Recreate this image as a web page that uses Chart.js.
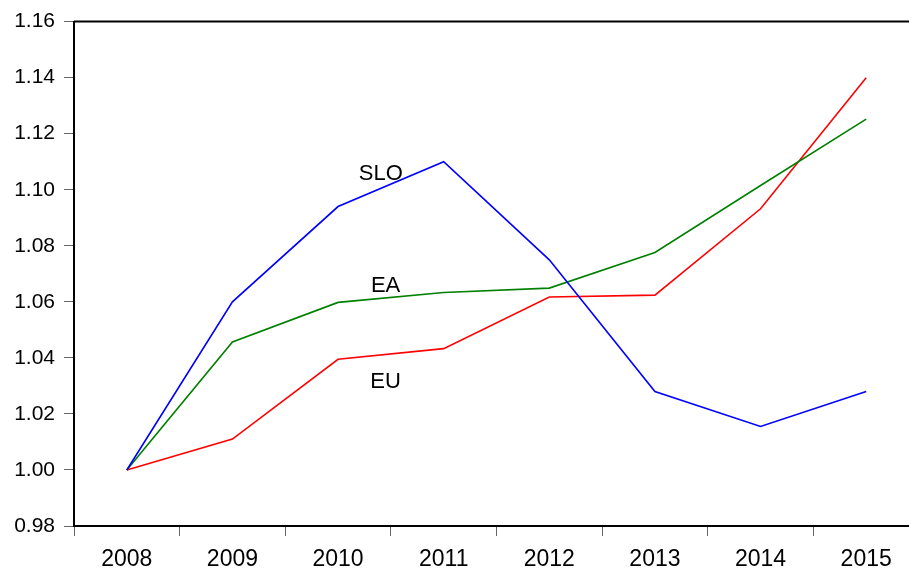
<!DOCTYPE html>
<html>
<head>
<meta charset="utf-8">
<script src="https://cdn.jsdelivr.net/npm/chart.js@4/dist/chart.umd.min.js"></script>
<style>
  html, body { margin: 0; padding: 0; background: #fff; overflow: hidden; }
  #wrap { width: 920px; height: 572px; position: relative; }
</style>
</head>
<body>
<div id="wrap"><canvas id="c"></canvas></div>
<script>
// data (index, 2008 = 1)
const years = ['2008', '2009', '2010', '2011', '2012', '2013', '2014', '2015'];
const slo = [1.000, 1.060, 1.094, 1.110, 1.075, 1.028, 1.0155, 1.028];
const ea  = [1.000, 1.0457, 1.0598, 1.0633, 1.0649, 1.0776, 1.1015, 1.1252];
const eu  = [1.000, 1.011, 1.0395, 1.0433, 1.0617, 1.0624, 1.0932, 1.140];

// in-chart series names (category index, value)
const seriesNames = ['SLO', 'EA', 'EU'];
const nameX = [2.405, 2.45, 2.45];
const nameY = [1.1057, 1.0656, 1.0315];

const frameAndNames = {
  id: 'frameAndNames',
  afterDatasetsDraw(chart) {
    const { ctx, chartArea, scales } = chart;
    ctx.save();
    // top frame line
    ctx.strokeStyle = '#000';
    ctx.lineWidth = 2;
    ctx.beginPath();
    ctx.moveTo(chartArea.left, chartArea.top);
    ctx.lineTo(chartArea.right, chartArea.top);
    ctx.stroke();
    // series names
    ctx.fillStyle = '#000';
    ctx.font = '22px "Liberation Sans", Arial, sans-serif';
    ctx.textAlign = 'center';
    ctx.textBaseline = 'middle';
    seriesNames.forEach((n, i) => {
      ctx.fillText(n, scales.x.getPixelForValue(nameX[i]), scales.y.getPixelForValue(nameY[i]));
    });
    ctx.restore();
  }
};

new Chart(document.getElementById('c'), {
  type: 'line',
  data: {
    labels: years,
    datasets: [
      { label: 'SLO', data: slo, borderColor: '#0000ff' },
      { label: 'EA', data: ea, borderColor: '#008000' },
      { label: 'EU', data: eu, borderColor: '#ff0000' }
    ]
  },
  options: {
    responsive: true,
    maintainAspectRatio: false,
    animation: false,
    devicePixelRatio: 1,
    layout: { padding: { top: 20, right: 1, left: 0, bottom: 0 } },
    elements: {
      line: { borderWidth: 1.6, tension: 0 },
      point: { radius: 0, hoverRadius: 0 }
    },
    plugins: {
      legend: { display: false },
      tooltip: { enabled: false }
    },
    scales: {
      x: {
        offset: true,
        grid: { offset: true, drawOnChartArea: false, tickLength: 10, color: '#666', lineWidth: 1 },
        border: { display: true, color: '#000', width: 2 },
        ticks: { color: '#000', padding: 10, maxRotation: 0, font: { family: '"Liberation Sans", Arial, sans-serif', size: 23 } },
        afterFit(s) { s.height = 46; }
      },
      y: {
        min: 0.98,
        max: 1.16,
        grid: { drawOnChartArea: false, tickLength: 10, color: '#666', lineWidth: 1 },
        border: { display: true, color: '#000', width: 2 },
        ticks: {
          stepSize: 0.02,
          color: '#000',
          padding: 9,
          font: { family: '"Liberation Sans", Arial, sans-serif', size: 21 },
          callback: v => v.toFixed(2)
        },
        afterFit(s) { s.width = 74; }
      }
    }
  },
  plugins: [frameAndNames]
});
</script>
</body>
</html>
